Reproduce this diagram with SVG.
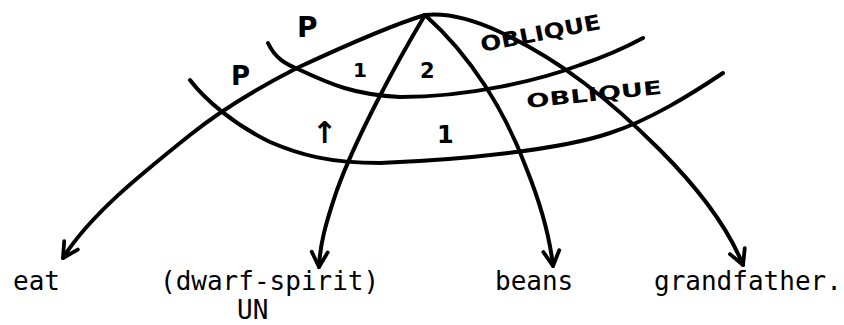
<svg xmlns="http://www.w3.org/2000/svg" width="844" height="325" viewBox="0 0 844 325">
<defs>
<marker id="arr" markerUnits="userSpaceOnUse" markerWidth="30" markerHeight="30" refX="0" refY="0" viewBox="-20 -15 25 30" orient="auto">
<path d="M-15,-8 L0,0 L-15,8" fill="none" stroke="#000" stroke-width="3.8" stroke-linecap="round" stroke-linejoin="round"/>
</marker>
</defs>
<style>
.ln{fill:none;stroke:#000;stroke-width:4;stroke-linecap:round;stroke-linejoin:round}
.arc{marker-end:url(#arr)}
.tt{font-family:"DejaVu Sans Mono","Liberation Mono",monospace;font-size:26px;fill:#000}
.hw{font-family:"DejaVu Sans","Liberation Sans",sans-serif;fill:#000;font-weight:bold}
</style>
<rect width="844" height="325" fill="#fff"/>
<g id="connectors">
<path class="ln arc" d="M425,15 C395,24 340,48 297,68 C250,92 215,115 190,135 C140,175 90,215 63,258"/>
<path class="ln arc" d="M425,15 C395,65 355,140 337,190 C325,225 320,245 319,267"/>
<path class="ln arc" d="M425,15 C470,55 505,110 527,170 C543,210 550,240 553,266"/>
<path class="ln arc" d="M425,15 C445,13 470,18 500,32 C560,60 610,100 660,150 C700,190 728,228 743,265"/>
<path class="ln" d="M268,43 C275,58 285,64 300,70 C330,84 355,95 400,97 C470,97 540,80 580,65 C610,55 630,45 643,38"/>
<path class="ln" d="M190,80 C205,100 235,125 270,142 C300,155 330,163 380,163 C460,160 560,150 610,133 C650,120 690,95 723,73"/>
</g>
<g id="labels">
<text class="hw" x="297" y="37" font-size="28">P</text>
<text class="hw" x="231" y="85" font-size="26">P</text>
<text class="hw" x="353" y="77" font-size="20">1</text>
<text class="hw" x="420" y="78" font-size="21">2</text>
<text class="hw" x="312" y="143" font-size="30">↑</text>
<text class="hw" x="437" y="143" font-size="24">1</text>
<text class="hw" x="482" y="52" font-size="21" textLength="122" lengthAdjust="spacingAndGlyphs" transform="rotate(-11 482 52)">OBLIQUE</text>
<text class="hw" x="527" y="108" font-size="19" textLength="136" lengthAdjust="spacingAndGlyphs" transform="rotate(-6 527 108)">OBLIQUE</text>
</g>
<g id="node-eat"><text class="tt" x="13" y="290">eat</text></g>
<g id="node-dwarf-spirit">
<text class="tt" x="160" y="290">(dwarf-spirit)</text>
<text class="tt" x="237" y="319">UN</text>
</g>
<g id="node-beans"><text class="tt" x="495" y="290">beans</text></g>
<g id="node-grandfather"><text class="tt" x="654" y="290" font-size="25.8">grandfather.</text></g>
</svg>
